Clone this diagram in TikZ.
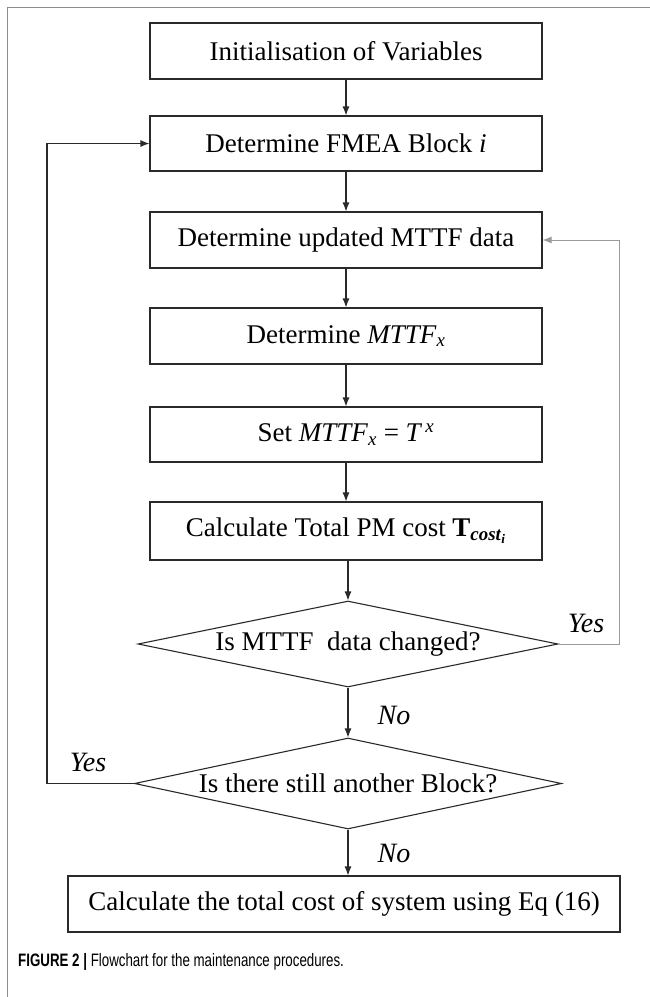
\documentclass[tikz,border=0pt]{standalone}
\usepackage{fontspec}
\setmainfont{Liberation Serif}
\newfontfamily\capfont[FakeStretch=0.74]{Liberation Sans}
\usetikzlibrary{shapes.geometric,arrows.meta}

\definecolor{linecol}{HTML}{2A2A2A}
\definecolor{loopgray}{HTML}{9A9A9A}
\definecolor{framecol}{HTML}{8C8C8C}

\begin{document}
\begin{tikzpicture}[x=1pt,y=-1pt,
  stepbox/.style={draw=linecol, line width=1.1pt, minimum width=392pt,
    minimum height=56pt, inner sep=0pt, font=\fontsize{27}{30}\selectfont},
  decision/.style={diamond, draw=linecol, line width=1.1pt, inner sep=0pt},
  qtext/.style={font=\fontsize{27}{30}\selectfont, inner sep=0pt},
  answer/.style={font=\fontsize{28}{30}\selectfont\itshape, inner sep=0pt},
  flow/.style={draw=linecol, line width=1.1pt, -{Latex[length=9pt,width=7pt]}},
  backflow/.style={draw=loopgray, line width=1pt, -{Latex[length=9pt,width=7pt]}}
]
% page and open frame
\useasboundingbox (0,0) rectangle (650,997);
\draw[framecol, line width=1pt] (7,997) -- (7,7) -- (650,7);

% process steps
\node[stepbox] (init) at (346,51) {Initialisation of Variables};
\node[stepbox, minimum height=55pt] (block) at (346,143.5) {Determine FMEA Block \textit{i}};
\node[stepbox] (upd) at (346,240) {Determine updated MTTF data};
\node[stepbox] (mttf) at (346,336) {Determine \textit{MTTF}\textsubscript{\textit{x}}};
\node[stepbox, minimum height=55pt] (set) at (346,434.5)
  {Set \textit{MTTF}\textsubscript{\textit{x}} = \textit{T}\textsuperscript{\,\textit{x}}};
\node[stepbox, minimum height=58pt] (cost) at (346,531)
  {Calculate Total PM cost \textbf{T}\textsubscript{\textbf{\textit{cost}}\textsubscript{\textbf{\textit{i}}}}};

% decisions
\node[decision, minimum width=420pt, minimum height=86pt] (chg) at (348,644) {};
\node[qtext] (chgtext) at (chg) {Is MTTF\hspace{0.25em} data changed?};
\node[decision, minimum width=427pt, minimum height=91pt] (more) at (348,783.5) {};
\node[qtext] (moretext) at (more) {Is there still another Block?};

% final step
\node[stepbox, minimum width=552pt] (total) at (344,904)
  {Calculate the total cost of system using Eq (16)};

% main flow
\draw[flow] (init) -- (block);
\draw[flow] (block) -- (upd);
\draw[flow] (upd) -- (mttf);
\draw[flow] (mttf) -- (set);
\draw[flow] (set) -- (cost);
\draw[flow] (cost.south -| chg.north) -- (chg.north);
\draw[flow] (chg.south) -- (more.north);
\draw[flow] (more.south) -- (total.north -| more.south);

% loops back
\coordinate (rturn) at (619,644);
\draw[backflow] (chg.east) -- (rturn) |- (upd.east);
\coordinate (lturn) at (47,783.5);
\draw[flow] (more.west) -- (lturn) |- (block.west);

% branch labels
\node[answer] (yes1) at (586,623) {Yes};
\node[answer] (no1) at (394,715) {No};
\node[answer] (yes2) at (88,762) {Yes};
\node[answer] (no2) at (394,853) {No};

% caption
\node[anchor=west, inner sep=0pt, font=\capfont\fontsize{18}{20}\selectfont] (caption) at (18,962)
  {\textbf{FIGURE 2 |} Flowchart for the maintenance procedures.};
\end{tikzpicture}
\end{document}
